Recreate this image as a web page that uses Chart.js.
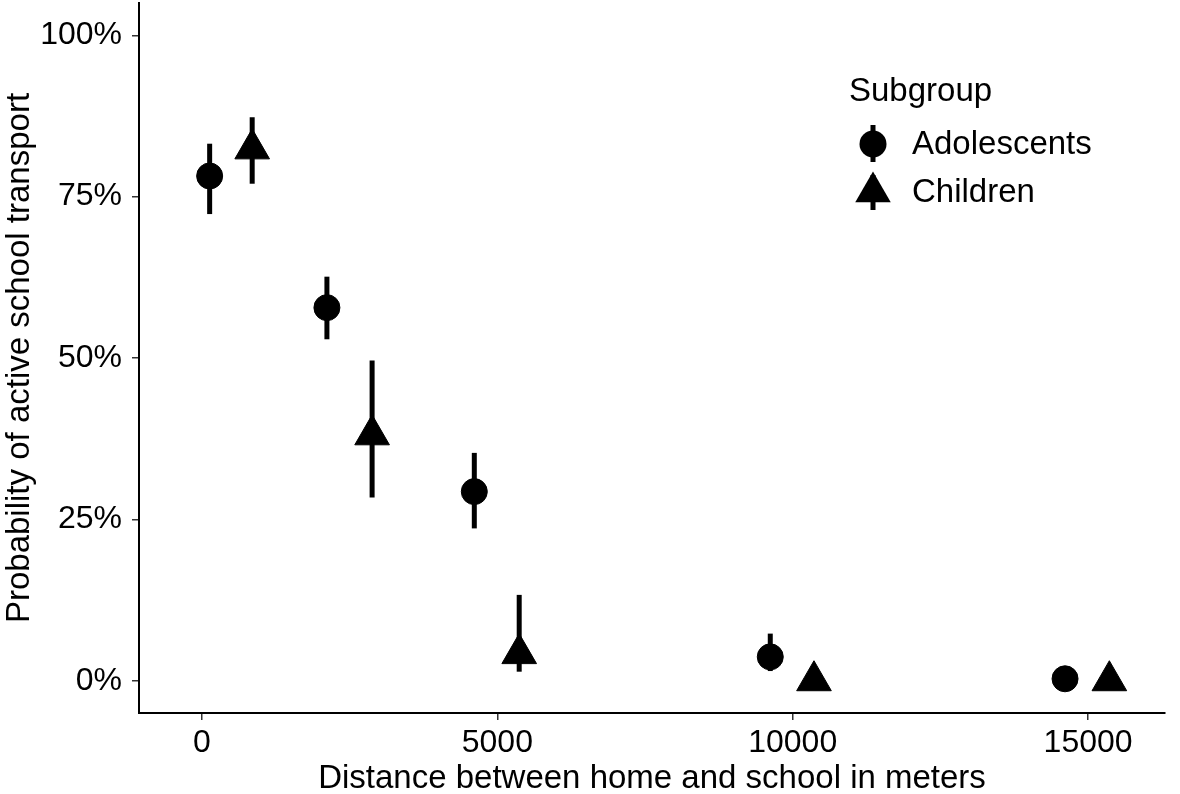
<!DOCTYPE html>
<html>
<head>
<meta charset="utf-8">
<script src="https://cdn.jsdelivr.net/npm/chart.js@4.4.1/dist/chart.umd.min.js"></script>
<style>
  html, body { margin: 0; padding: 0; background: #fff; }
</style>
</head>
<body>
<canvas id="c" width="1180" height="794"></canvas>
<script>
const distanceTicks = [0, 5000, 10000, 15000]
const probTicks = [0, 25, 50, 75, 100]

const adolDistance = [130, 2115, 4610, 9620, 14610]
const adolProb = [78.2, 57.8, 29.3, 3.7, 0.3]
const adolLow = [72.3, 52.9, 23.6, 1.5, 0.1]
const adolHigh = [83.2, 62.6, 35.3, 7.3, 0.6]

const childDistance = [850, 2880, 5370, 10360, 15360]
const childProb = [82.4, 38.1, 4.2, 0.0, 0.0]
const childLow = [77.0, 28.4, 1.4, 0.0, 0.0]
const childHigh = [87.3, 49.6, 13.3, 0.1, 0.1]

const font = 'Liberation Sans, Arial, sans-serif'

function points(xs, ys, lo, hi) {
    return xs.map((x, i) => ({ x: x, y: ys[i], lo: lo[i], hi: hi[i] }))
}

// vertical error bars, drawn under the points
const errorBars = {
    id: 'errorBars',
    beforeDatasetsDraw(chart) {
        const ctx = chart.ctx
        const xs = chart.scales.x, ys = chart.scales.y
        ctx.save()
        ctx.strokeStyle = '#000'
        ctx.lineWidth = 5
        chart.data.datasets.forEach(ds => {
            ds.data.forEach(p => {
                const px = xs.getPixelForValue(p.x)
                ctx.beginPath()
                ctx.moveTo(px, ys.getPixelForValue(p.lo))
                ctx.lineTo(px, ys.getPixelForValue(p.hi))
                ctx.stroke()
            })
        })
        ctx.restore()
    }
}

// ggplot-like legend with title
const subgroupLegend = {
    id: 'subgroupLegend',
    afterDraw(chart) {
        const ctx = chart.ctx
        ctx.save()
        ctx.fillStyle = '#000'
        ctx.strokeStyle = '#000'
        ctx.font = '33px ' + font
        ctx.textBaseline = 'alphabetic'
        ctx.fillText('Subgroup', 849, 101)

        ctx.lineWidth = 5
        ctx.beginPath(); ctx.moveTo(873, 125); ctx.lineTo(873, 162); ctx.stroke()
        ctx.beginPath(); ctx.arc(873, 144, 13.5, 0, Math.PI * 2); ctx.fill()

        ctx.beginPath(); ctx.moveTo(873, 175); ctx.lineTo(873, 210); ctx.stroke()
        const r = 20.5
        ctx.beginPath()
        ctx.moveTo(873, 192 - r)
        ctx.lineTo(873 + r * 0.866, 192 + r / 2)
        ctx.lineTo(873 - r * 0.866, 192 + r / 2)
        ctx.closePath()
        ctx.fill()

        ctx.textBaseline = 'middle'
        ctx.fillText('Adolescents', 912, 145)
        ctx.fillText('Children', 912, 193)
        ctx.restore()
    }
}

const tickGrid = { drawOnChartArea: false, drawTicks: true, tickLength: 7, color: '#333', lineWidth: 1.5 }

new Chart(document.getElementById('c'), {
    type: 'scatter',
    data: {
        datasets: [{
            label: 'Adolescents',
            data: points(adolDistance, adolProb, adolLow, adolHigh),
            pointStyle: 'circle',
            pointRadius: 13,
            backgroundColor: '#000',
            borderColor: '#000',
            borderWidth: 1
        }, {
            label: 'Children',
            data: points(childDistance, childProb, childLow, childHigh),
            pointStyle: 'triangle',
            pointRadius: 20,
            backgroundColor: '#000',
            borderColor: '#000',
            borderWidth: 1
        }]
    },
    options: {
        responsive: false,
        animation: false,
        devicePixelRatio: 1,
        layout: { autoPadding: false, padding: { top: 3, right: 15, left: 0, bottom: 0 } },
        plugins: { legend: { display: false }, tooltip: { enabled: false } },
        scales: {
            x: {
                type: 'linear',
                min: -1066,
                max: 16302,
                afterBuildTicks: s => { s.ticks = distanceTicks.map(v => ({ value: v })) },
                afterFit: s => { s.height = 81; s.paddingLeft = 0; s.paddingRight = 0 },
                ticks: { color: '#000', font: { family: font, size: 32 }, padding: 4, callback: v => String(v) },
                grid: tickGrid,
                border: { color: '#000', width: 2 },
                title: { display: true, text: 'Distance between home and school in meters', color: '#000', font: { family: font, size: 33, lineHeight: 0.9 }, padding: 0 }
            },
            y: {
                type: 'linear',
                min: -5,
                max: 105,
                afterBuildTicks: s => { s.ticks = probTicks.map(v => ({ value: v })) },
                afterFit: s => { s.width = 139; s.paddingTop = 0; s.paddingBottom = 0 },
                ticks: { color: '#000', font: { family: font, size: 32 }, padding: 10, callback: v => v + '%' },
                grid: tickGrid,
                border: { color: '#000', width: 2 },
                title: { display: true, text: 'Probability of active school transport', color: '#000', font: { family: font, size: 33 }, padding: 0 }
            }
        }
    },
    plugins: [errorBars, subgroupLegend]
})
</script>
</body>
</html>
